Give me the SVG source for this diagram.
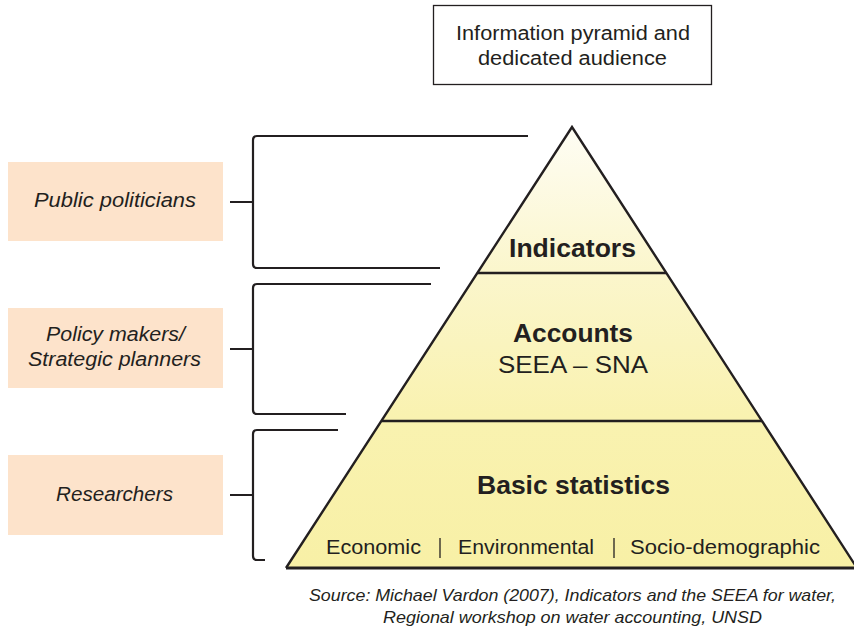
<svg xmlns="http://www.w3.org/2000/svg" width="854" height="627" viewBox="0 0 854 627">
<style>
.aud{fill:#fde3cb}
.at{font-family:"Liberation Sans",Arial,sans-serif;font-size:19.5px;font-style:italic;fill:#231f20;text-anchor:middle}
.br{fill:none;stroke:#231f20;stroke-width:2.2;stroke-linejoin:round}
.pl{stroke:#231f20;stroke-width:2.4;fill:none}
.bt{font-family:"Liberation Sans",Arial,sans-serif;font-weight:bold;font-size:25px;fill:#231f20;text-anchor:middle}
.rt{font-family:"Liberation Sans",Arial,sans-serif;font-size:23.5px;fill:#231f20;text-anchor:middle}
.st{font-family:"Liberation Sans",Arial,sans-serif;font-size:19.5px;fill:#231f20;text-anchor:middle}
.tt{font-family:"Liberation Sans",Arial,sans-serif;font-size:20px;fill:#231f20;text-anchor:middle}
.src{font-family:"Liberation Sans",Arial,sans-serif;font-size:16.5px;font-style:italic;fill:#231f20;text-anchor:middle}
</style>
<defs>
<linearGradient id="g" x1="0" y1="127" x2="0" y2="568" gradientUnits="userSpaceOnUse">
<stop offset="0" stop-color="#fefdf4"/>
<stop offset="0.33" stop-color="#fbf6cc"/>
<stop offset="0.66" stop-color="#f9f2b0"/>
<stop offset="1" stop-color="#f8f0a6"/>
</linearGradient>
</defs>
<rect width="854" height="627" fill="#ffffff"/>
<g id="title">
<rect x="433.5" y="5.5" width="278" height="79" fill="#ffffff" stroke="#231f20" stroke-width="1.3"/>
<text x="573" y="40" class="tt" textLength="234" lengthAdjust="spacingAndGlyphs">Information pyramid and</text>
<text x="572.5" y="65" class="tt" textLength="189" lengthAdjust="spacingAndGlyphs">dedicated audience</text>
</g>
<g id="pyramid">
<polygon points="572,127 286,568 857,568" fill="url(#g)"/>
<polyline class="pl" points="286,568 572,127 857,568"/>
<line x1="286" y1="568" x2="854" y2="568" stroke="#231f20" stroke-width="3"/>
</g>
<g id="indicators">
<line class="pl" x1="478" y1="273" x2="666" y2="273"/>
<text x="572.5" y="257" class="bt" textLength="127" lengthAdjust="spacingAndGlyphs">Indicators</text>
</g>
<g id="accounts">
<line class="pl" x1="382" y1="421" x2="762" y2="421"/>
<text x="573" y="342" class="bt" textLength="120" lengthAdjust="spacingAndGlyphs">Accounts</text>
<text x="573" y="373" class="rt" textLength="150" lengthAdjust="spacingAndGlyphs">SEEA – SNA</text>
</g>
<g id="basic-statistics">
<text x="573.5" y="494" class="bt" textLength="193" lengthAdjust="spacingAndGlyphs">Basic statistics</text>
<text x="373.5" y="554" class="st" textLength="95" lengthAdjust="spacingAndGlyphs">Economic</text>
<line x1="440" y1="538" x2="440" y2="558" stroke="#231f20" stroke-width="1.3"/>
<text x="526" y="554" class="st" textLength="136" lengthAdjust="spacingAndGlyphs">Environmental</text>
<line x1="614" y1="538" x2="614" y2="558" stroke="#231f20" stroke-width="1.3"/>
<text x="725" y="554" class="st" textLength="190" lengthAdjust="spacingAndGlyphs">Socio-demographic</text>
</g>
<g id="public-politicians">
<rect class="aud" x="8" y="162" width="215" height="79"/>
<text x="115" y="207" class="at" textLength="162" lengthAdjust="spacingAndGlyphs">Public politicians</text>
</g>
<g id="policy-makers">
<rect class="aud" x="8" y="308" width="215" height="80"/>
<text x="115.5" y="341" class="at" textLength="139" lengthAdjust="spacingAndGlyphs">Policy makers/</text>
<text x="114.5" y="366" class="at" textLength="173" lengthAdjust="spacingAndGlyphs">Strategic planners</text>
</g>
<g id="researchers">
<rect class="aud" x="8" y="455" width="215" height="80"/>
<text x="114.5" y="501" class="at" textLength="117" lengthAdjust="spacingAndGlyphs">Researchers</text>
</g>
<g id="connectors">
<path class="br" d="M528,136 H257 Q253,136 253,140 V264 Q253,268 257,268 H440 M230,202 H253"/>
<path class="br" d="M431,284 H257 Q253,284 253,288 V410 Q253,414 257,414 H346 M230,349 H253"/>
<path class="br" d="M338,430 H257 Q253,430 253,434 V556 Q253,560 257,560 H265 M230,495 H253"/>
</g>
<g id="source">
<text x="572.5" y="601" class="src" textLength="527" lengthAdjust="spacingAndGlyphs">Source: Michael Vardon (2007), Indicators and the SEEA for water,</text>
<text x="572.5" y="623" class="src" textLength="379" lengthAdjust="spacingAndGlyphs">Regional workshop on water accounting, UNSD</text>
</g>
</svg>
